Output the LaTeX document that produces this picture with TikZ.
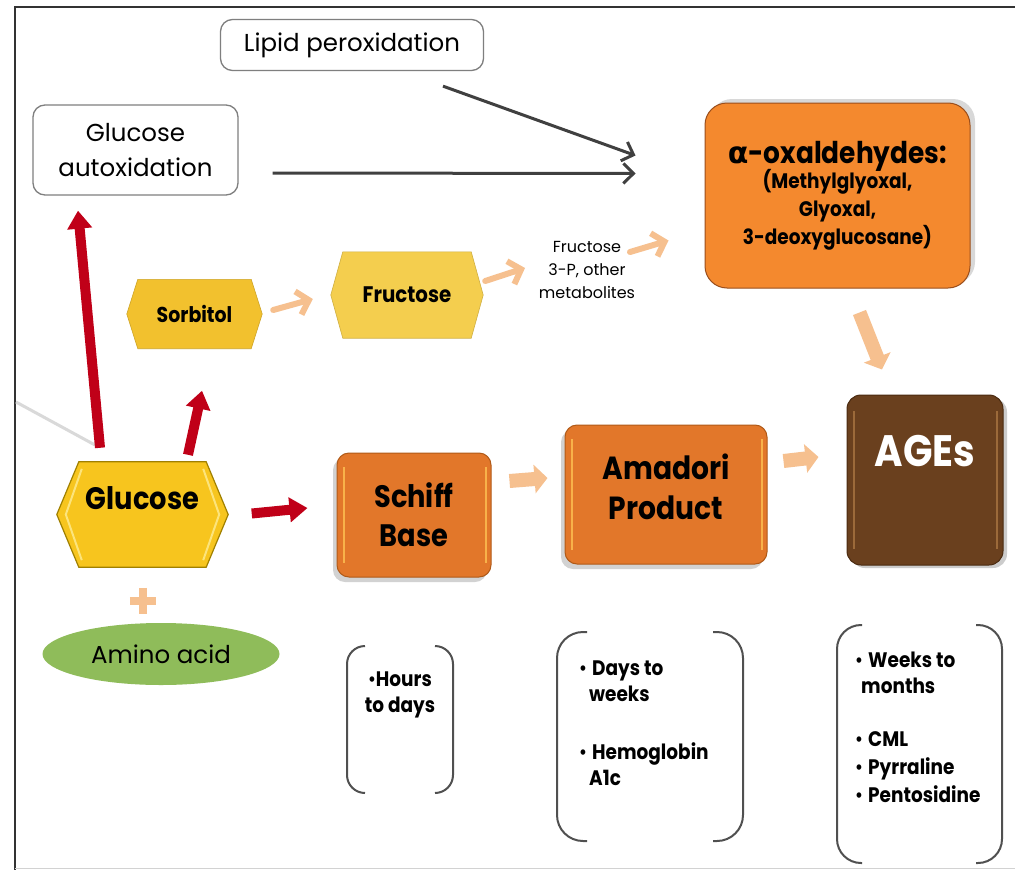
\documentclass[tikz,border=0pt]{standalone}
\usepackage{fontspec}
\setmainfont{Poppins}[BoldFeatures={FakeStretch=0.88}]
\newfontfamily\grk{DejaVu Sans}
\usetikzlibrary{arrows.meta,shadows,calc,backgrounds,shapes.geometric}
\newcommand\myfs[2]{\fontsize{#1pt}{#2pt}\selectfont}
\newcommand\smallbul{\raisebox{1pt}{\scalebox{0.85}{\textbullet}}}
\newcommand\bul{\makebox[13pt][l]{\smallbul}}
\newcommand\hexpath[3]{\draw[#3] (#1.west) -- ([xshift=#2]#1.north west) -- ([xshift=-#2]#1.north east) -- (#1.east) -- ([xshift=-#2]#1.south east) -- ([xshift=#2]#1.south west) -- cycle;}
\definecolor{framec}{HTML}{333333}
\definecolor{boxgrey}{HTML}{7F7F7F}
\definecolor{darkc}{HTML}{404040}
\definecolor{alphac}{HTML}{F4892E}
\definecolor{alphab}{HTML}{9A4E1C}
\definecolor{orangeA}{HTML}{E2772A}
\definecolor{obord}{HTML}{B05A18}
\definecolor{hlc}{HTML}{F8B24A}
\definecolor{agesc}{HTML}{6A401E}
\definecolor{agesb}{HTML}{4A2A10}
\definecolor{ageshl}{HTML}{9C6A3A}
\definecolor{sorbc}{HTML}{F2C12E}
\definecolor{frucc}{HTML}{F4CE4E}
\definecolor{gluc}{HTML}{F7C51E}
\definecolor{glub}{HTML}{A08000}
\definecolor{gluhl}{HTML}{FCE47C}
\definecolor{peach}{HTML}{F6C08F}
\definecolor{redc}{HTML}{C00018}
\definecolor{greenc}{HTML}{8FBC5A}
\definecolor{brk}{HTML}{505050}
\begin{document}
\begin{tikzpicture}[x=1pt,y=-1pt,
 every node/.style={inner sep=0pt},
 whitebox/.style={draw=boxgrey,line width=1.3pt,rounded corners=12pt,fill=white,align=center,font=\myfs{24.5}{35}},
 obox/.style={draw=obord,line width=1pt,fill=orangeA,rounded corners=12pt,align=center,font=\bfseries\myfs{32}{40},
   drop shadow={shadow xshift=-4pt,shadow yshift=-5pt,opacity=0.35},
   path picture={
     \draw[hlc,line width=2.5pt] ([xshift=7pt,yshift=-14pt]path picture bounding box.north west) -- ([xshift=7pt,yshift=14pt]path picture bounding box.south west);
     \draw[hlc,line width=2.5pt] ([xshift=-5pt,yshift=-14pt]path picture bounding box.north east) -- ([xshift=-5pt,yshift=14pt]path picture bounding box.south east);}},
 agesbox/.style={draw=agesb,line width=1pt,fill=agesc,rounded corners=14pt,align=center,text=white,font=\bfseries\myfs{44}{44},
   drop shadow={shadow xshift=4pt,shadow yshift=-3pt,opacity=0.4},
   path picture={
     \draw[ageshl,line width=2.5pt] ([xshift=7pt,yshift=-16pt]path picture bounding box.north west) -- ([xshift=7pt,yshift=16pt]path picture bounding box.south west);
     \draw[ageshl,line width=2.5pt] ([xshift=-6pt,yshift=-16pt]path picture bounding box.north east) -- ([xshift=-6pt,yshift=16pt]path picture bounding box.south east);}},
 alphabox/.style={draw=alphab,line width=1pt,fill=alphac,rounded corners=22pt,align=center,font=\bfseries\myfs{21}{28},
   drop shadow={shadow xshift=5pt,shadow yshift=4pt,opacity=0.3}},
 hexnode/.style={inner sep=0pt,font=\bfseries},
 darkarrow/.style={draw=darkc,line width=3pt,-{Straight Barb[length=10pt,width=20pt]}},
 peacharrow/.style={draw=peach,line width=6pt,line cap=round,-{Straight Barb[length=11pt,width=24pt]}},
 fatarrow/.style={draw=peach,line width=14pt,-{Triangle[length=13pt,width=28pt]}},
 redarrow/.style={draw=redc,line width=10pt,-{Triangle[length=18pt,width=24pt]}},
 brkline/.style={draw=brk,line width=2pt,rounded corners=18pt},
 bultext/.style={align=left,font=\bfseries\myfs{21}{26}}
]
\useasboundingbox (0,0) rectangle (1015,870);
\begin{scope}[on background layer]
  \fill[white] (0,0) rectangle (1015,870);
\end{scope}
% frame
\draw[framec,line width=2pt] (15,870) -- (15,7) -- (1015,7);
\draw[gray!35,line width=1pt] (15,868) -- (1015,868);
\draw[gray!30,line width=3pt] (16,402) -- (95,445);

% white boxes
\node[whitebox,minimum width=263pt,minimum height=51pt,font=\myfs{24.5}{24.5}] (lipid) at (352,45) {Lipid peroxidation};
\node[whitebox,minimum width=205pt,minimum height=90pt] (autox) at (135.5,150) {Glucose\\autoxidation};

% alpha box
\node[alphabox,minimum width=265pt,minimum height=185pt] (alpha) at (837.5,195.5)
  {{\myfs{30}{30}{\grk\bfseries α}-oxaldehydes:}\\[-3pt](Methylglyoxal,\\Glyoxal,\\3-deoxyglucosane)};

% AGEs
\node[agesbox,minimum width=156pt,minimum height=170pt,text height=32pt,text depth=60pt] (ages) at (925,480) {AGEs};

% orange boxes
\node[obox,minimum width=154pt,minimum height=124pt,font=\bfseries\myfs{31}{39}] (schiff) at (414,515) {Schiff\\Base};
\node[obox,minimum width=202pt,minimum height=139pt] (amadori) at (666,494.5) {};
\node[align=center,font=\bfseries\myfs{32}{40}] (amadoritxt) at (666,487) {Amadori\\Product};

% hexagons
\node[hexnode,minimum width=135pt,minimum height=69pt,font=\bfseries\myfs{21.5}{21.5}] (sorb) at (194.5,314) {Sorbitol};
\node[hexnode,minimum width=152pt,minimum height=86pt,font=\bfseries\myfs{22.5}{22.5}] (fruc) at (407,295) {Fructose};
\node[hexnode,minimum width=171pt,minimum height=105pt,font=\bfseries\myfs{31}{31},text height=23pt,text depth=34pt] (glu) at (142.5,514.5) {Glucose};
\begin{scope}[on background layer]
  \hexpath{sorb}{11pt}{fill=sorbc,draw=sorbc!85!black,line width=0.6pt}
  \hexpath{fruc}{12pt}{fill=frucc,draw=frucc!85!black,line width=0.6pt}
  \hexpath{glu}{22pt}{fill=gluc,draw=glub,line width=1.2pt}
  \draw[gluhl,line width=2pt] ([xshift=25pt,yshift=-7pt]glu.north west) -- ([xshift=9pt]glu.west) -- ([xshift=25pt,yshift=7pt]glu.south west);
  \draw[gluhl,line width=2pt] ([xshift=-25pt,yshift=-7pt]glu.north east) -- ([xshift=-9pt]glu.east) -- ([xshift=-25pt,yshift=7pt]glu.south east);
\end{scope}

% metabolites text
\node[align=center,font=\myfs{16}{23}] (metab) at (587,270) {Fructose\\3-P, other\\metabolites};

% plus and amino acid
\node[minimum size=26pt] (plus) at (143,601) {};
\draw[peach,line width=8pt] (plus.west) -- (plus.east) (plus.north) -- (plus.south);
\node[ellipse,fill=greenc,minimum width=237pt,minimum height=62pt,font=\myfs{24.5}{24.5}] (amino) at (161,654) {Amino acid};

% dark arrows
\draw[darkarrow] ($(lipid.south)+(91,15)$) -- ($(alpha.west)+(-69,-40)$);
\draw[darkarrow] ($(autox.east)+(34,23)$) -- ($(alpha.west)+(-69,-22)$);

% peach thin arrows
\draw[peacharrow] ($(sorb.east)+(11,-4)$) -- ($(fruc.west)+(-18,4)$);
\draw[peacharrow] ($(fruc.east)+(2,-14)$) -- ($(metab.center)+(-62,-2)$);
\draw[peacharrow] ($(metab.center)+(43,-18)$) -- ($(alpha.west)+(-36,45)$);

% fat peach arrows
\draw[fatarrow] ($(alpha.south)+(22,24)$) -- ($(ages.north)+(-43,-25)$);
\draw[fatarrow] ($(schiff.east)+(18,-34)$) -- ($(amadori.west)+(-17,-16.5)$);
\draw[fatarrow] ($(amadori.east)+(16,-33.5)$) -- ($(ages.west)+(-28,-23)$);

% red arrows
\draw[redarrow] ($(glu.north)+(-42.5,-14)$) -- ($(autox.south)+(-57.5,15)$);
\draw[redarrow] ($(glu.north)+(45.5,-7)$) -- ($(sorb.south)+(7.5,42)$);
\draw[redarrow] ($(glu.east)+(23.5,-1)$) -- ($(schiff.west)+(-29,-7)$);

% brackets
\draw[brkline] (365,646) -- (347,646) -- (347,793) -- (365,793);
\draw[brkline] (435,646) -- (453,646) -- (453,793) -- (435,793);
\draw[brkline,rounded corners=26pt] (587,632) -- (557,632) -- (557,841) -- (587,841);
\draw[brkline,rounded corners=26pt] (713,632) -- (743,632) -- (743,841) -- (713,841);
\draw[brkline,rounded corners=24pt] (862,625) -- (837,625) -- (837,863) -- (862,863);
\draw[brkline,rounded corners=24pt] (976,625) -- (1002,625) -- (1002,863) -- (976,863);

% bullet texts
\node[bultext,align=center,anchor=north] (stime) at (400,672) {\smallbul Hours\\to days};
\node[bultext,anchor=north west] (atime) at (579,661) {\bul Days to\\\hspace*{10pt}weeks\\[32pt]\bul Hemoglobin\\\hspace*{10pt}A1c};
\node[bultext,anchor=north west] (gtime) at (855,652) {\bul Weeks to\\\hspace*{6pt}months\\[27pt]\bul CML\\[2pt]\bul Pyrraline\\[2pt]\bul Pentosidine};
\end{tikzpicture}
\end{document}
